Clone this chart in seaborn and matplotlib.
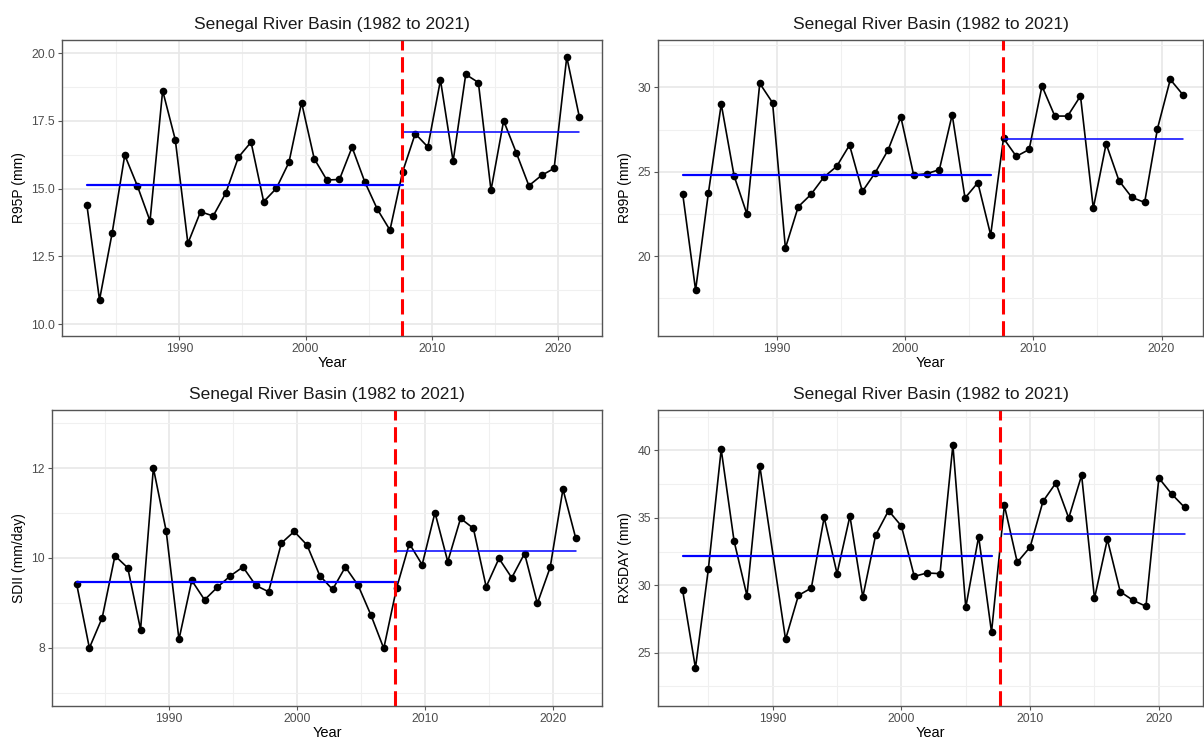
import numpy as np
import pandas as pd
import seaborn as sns
import matplotlib.pyplot as plt
from matplotlib.ticker import MultipleLocator, FormatStrFormatter

years = np.arange(1982, 2022)

r95p = [14.40, 10.89, 13.36, 16.24, 15.10, 13.81, 18.62, 16.81, 12.98, 14.15,
        13.99, 14.84, 16.16, 16.72, 14.52, 15.01, 15.97, 18.18, 16.11, 15.32,
        15.34, 16.53, 15.26, 14.24, 13.47, 15.62, 17.03, 16.54, 19.01, 16.01,
        19.22, 18.92, 14.94, 17.51, 16.33, 15.11, 15.49, 15.75, 19.86, 17.64]

r99p = [23.66, 17.98, 23.75, 29.01, 24.76, 22.49, 30.24, 29.09, 20.47, 22.92,
        23.66, 24.68, 25.32, 26.58, 23.83, 24.94, 26.28, 28.24, 24.80, 24.88,
        25.12, 28.38, 23.44, 24.35, 21.25, 26.98, 25.91, 26.32, 30.08, 28.30,
        28.30, 29.49, 22.83, 26.66, 24.47, 23.48, 23.18, 27.55, 30.47, 29.55]

sdii = [9.43, 8.00, 8.67, 10.05, 9.78, 8.41, 12.00, 10.60, 8.19, 9.50,
        9.07, 9.35, 9.60, 9.80, 9.39, 9.25, 10.33, 10.59, 10.29, 9.61,
        9.30, 9.80, 9.39, 8.73, 7.99, 9.33, 10.32, 9.85, 11.01, 9.92,
        10.88, 10.66, 9.36, 9.99, 9.56, 10.10, 8.99, 9.79, 11.53, 10.44]

rx5day = [29.65, 23.86, 31.18, 40.07, 33.28, 29.23, 38.84, np.nan, 25.99, 29.25,
          29.79, 35.03, 30.86, 35.13, 29.13, 33.72, 35.53, 34.39, 30.66, 30.91,
          30.86, 40.40, 28.36, 33.60, 26.53, 35.92, 31.70, 32.83, 36.22, 37.58,
          34.98, 38.15, 29.03, 33.40, 29.52, 28.88, 28.44, 37.95, 36.76, 35.77]

# mean level before / after the change point
levels = {
    "R95P": (15.14, 17.11),
    "R99P": (24.80, 26.92),
    "SDII": (9.47, 10.16),
    "RX5DAY": (32.19, 33.80),
}
# index where the first segment ends / second segment starts
seg_idx = {
    "R95P": (25, 25),
    "R99P": (24, 25),
    "SDII": (25, 25),
    "RX5DAY": (24, 25),
}
change_year = 2007.65

panels = [
    ("R95P", r95p, "R95P (mm)", 0.68, (9.56, 20.49), 2.5, "%.1f", (1980.71, 2023.47)),
    ("R99P", r99p, "R99P (mm)", 0.68, (15.26, 32.81), 5, "%d", (1980.75, 2023.23)),
    ("SDII", sdii, "SDII (mm/day)", 0.78, (6.71, 13.29), 2, "%d", (1980.86, 2023.83)),
    ("RX5DAY", rx5day, "RX5DAY (mm)", 1.0, (21.05, 42.99), 5, "%d", (1981.09, 2023.43)),
]

W, H = 1204, 738
boxes = [
    (62, 40, 602, 336),
    (658, 40, 1203, 336),
    (52, 410, 602, 706),
    (658, 410, 1203, 706),
]

sns.set_theme(style="white")
plt.rcParams['font.family'] = ['Liberation Sans', 'DejaVu Sans']

fig = plt.figure(figsize=(W / 100, H / 100), dpi=100)

for (name, vals, ylab, shift, ylim, ystep, yfmt, xlim), (l, t, r, b) in zip(panels, boxes):
    ax = fig.add_axes([l / W, 1 - b / H, (r - l) / W, (b - t) / H])
    df = pd.DataFrame({"x": years + shift, "y": vals})

    ax.set_axisbelow(True)
    ax.xaxis.set_major_locator(MultipleLocator(10))
    ax.xaxis.set_minor_locator(MultipleLocator(5))
    ax.yaxis.set_major_locator(MultipleLocator(ystep))
    ax.yaxis.set_minor_locator(MultipleLocator(ystep / 2))
    ax.yaxis.set_major_formatter(FormatStrFormatter(yfmt))
    ax.grid(which="major", color="#e8e8e8", linewidth=1.2)
    ax.grid(which="minor", color="#f0f0f0", linewidth=0.8)

    sns.lineplot(data=df.dropna(), x="x", y="y", ax=ax, color="black",
                 linewidth=1.2, marker="o", markersize=5.5,
                 markeredgewidth=0, markerfacecolor="black")

    lv1, lv2 = levels[name]
    i1, i2 = seg_idx[name]
    xs = df["x"].values
    sns.lineplot(x=[xs[0], xs[i1]], y=[lv1, lv1], ax=ax, color="#0000ff", linewidth=1.6)
    sns.lineplot(x=[xs[i2], xs[-1]], y=[lv2, lv2], ax=ax, color="#0000ff", linewidth=1.1)

    ax.axvline(change_year, color="#ff0000", linewidth=2.2, linestyle=(0, (5, 2.2)))

    ax.set_xlim(*xlim)
    ax.set_ylim(*ylim)
    ax.set_title("Senegal River Basin (1982 to 2021)", fontsize=12.5, pad=8, color="#1a1a1a")
    ax.set_xlabel("Year", fontsize=10.5, labelpad=0.5, color="black")
    ax.set_ylabel(ylab, fontsize=10, labelpad=4, color="black")
    ax.tick_params(which="major", length=3, width=0.8, color="#555555",
                   labelsize=8.8, labelcolor="#4d4d4d", pad=2, bottom=True, left=True)
    ax.tick_params(which="minor", length=0)
    for sp in ax.spines.values():
        sp.set_color("#555555")
        sp.set_linewidth(1.0)

fig.savefig("out.png", dpi=100)
